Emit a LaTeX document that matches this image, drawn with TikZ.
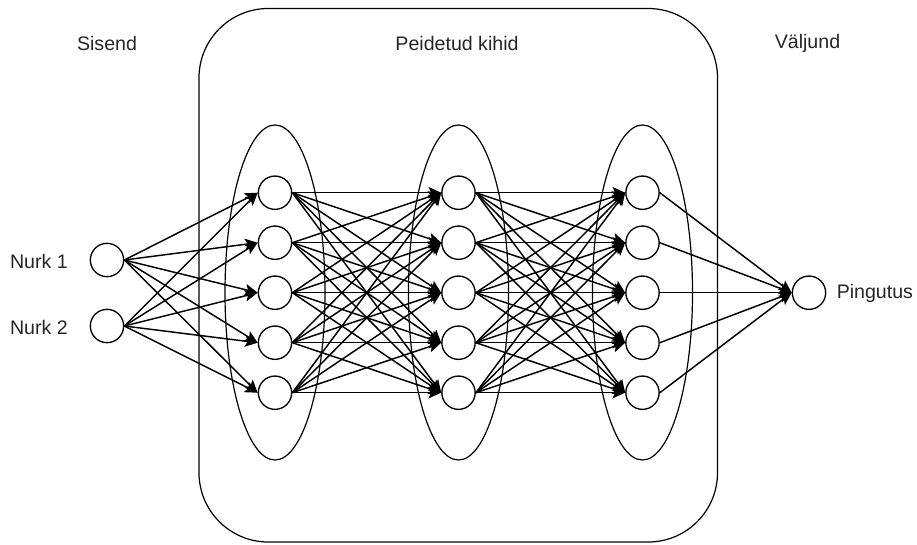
\documentclass[tikz,border=0pt]{standalone}
\usepackage{fontspec}
\setmainfont{Liberation Sans}
\usetikzlibrary{arrows.meta}
\begin{document}
\begin{tikzpicture}[x=0.75pt,y=-0.75pt,
  neuron/.style={circle,draw=black,line width=1pt,minimum size=25pt,inner sep=0pt,fill=white},
  lbl/.style={font=\fontsize{14.7pt}{17pt}\selectfont,text=black!85,inner sep=0pt},
  conn/.style={line width=1.1pt,-{Stealth[length=9.5pt,width=8.5pt,inset=2pt]}},
  grp/.style={draw=black,line width=0.9pt}]
\useasboundingbox (0,0) rectangle (917,544);
% hidden box
\draw[grp,rounded corners=52pt] (199,8.5) rectangle (717.5,542);
% layer ellipses
\draw[grp] (275,292.5) ellipse [x radius=50, y radius=167.5];
\draw[grp] (458.5,292.5) ellipse [x radius=50, y radius=167.5];
\draw[grp] (642.5,292.5) ellipse [x radius=50, y radius=167.5];
% labels
\node[lbl] (tSis) at (107,43) {Sisend};
\node[lbl] (tPei) at (457,43) {Peidetud kihid};
\node[lbl] (tVal) at (807.5,43) {Väljund};
% input nodes
\node[neuron] (i1) at (107,260) {};
\node[neuron] (i2) at (107,326) {};
\node[lbl,anchor=east] (ti1) at (68,261) {Nurk 1};
\node[lbl,anchor=east] (ti2) at (68,327) {Nurk 2};
% hidden nodes
\foreach \k/\y in {1/192.7,2/242.7,3/292.7,4/342.7,5/392.7}{
  \node[neuron] (a\k) at (275,\y) {};
  \node[neuron] (b\k) at (458.5,\y) {};
  \node[neuron] (c\k) at (642.5,\y) {};
}
% output
\node[neuron] (o) at (809,292.7) {};
\node[lbl,anchor=west] (to) at (836.5,293.5) {Pingutus};
% connections
\foreach \i in {1,2}{
  \foreach \j in {1,...,5}{
    \draw[conn] (i\i.east) -- (a\j.west);
  }
}
\foreach \i in {1,...,5}{
  \foreach \j in {1,...,5}{
    \draw[conn] (a\i.east) -- (b\j.west);
    \draw[conn] (b\i.east) -- (c\j.west);
  }
  \draw[conn] (c\i.east) -- (o.west);
}
\end{tikzpicture}
\end{document}
